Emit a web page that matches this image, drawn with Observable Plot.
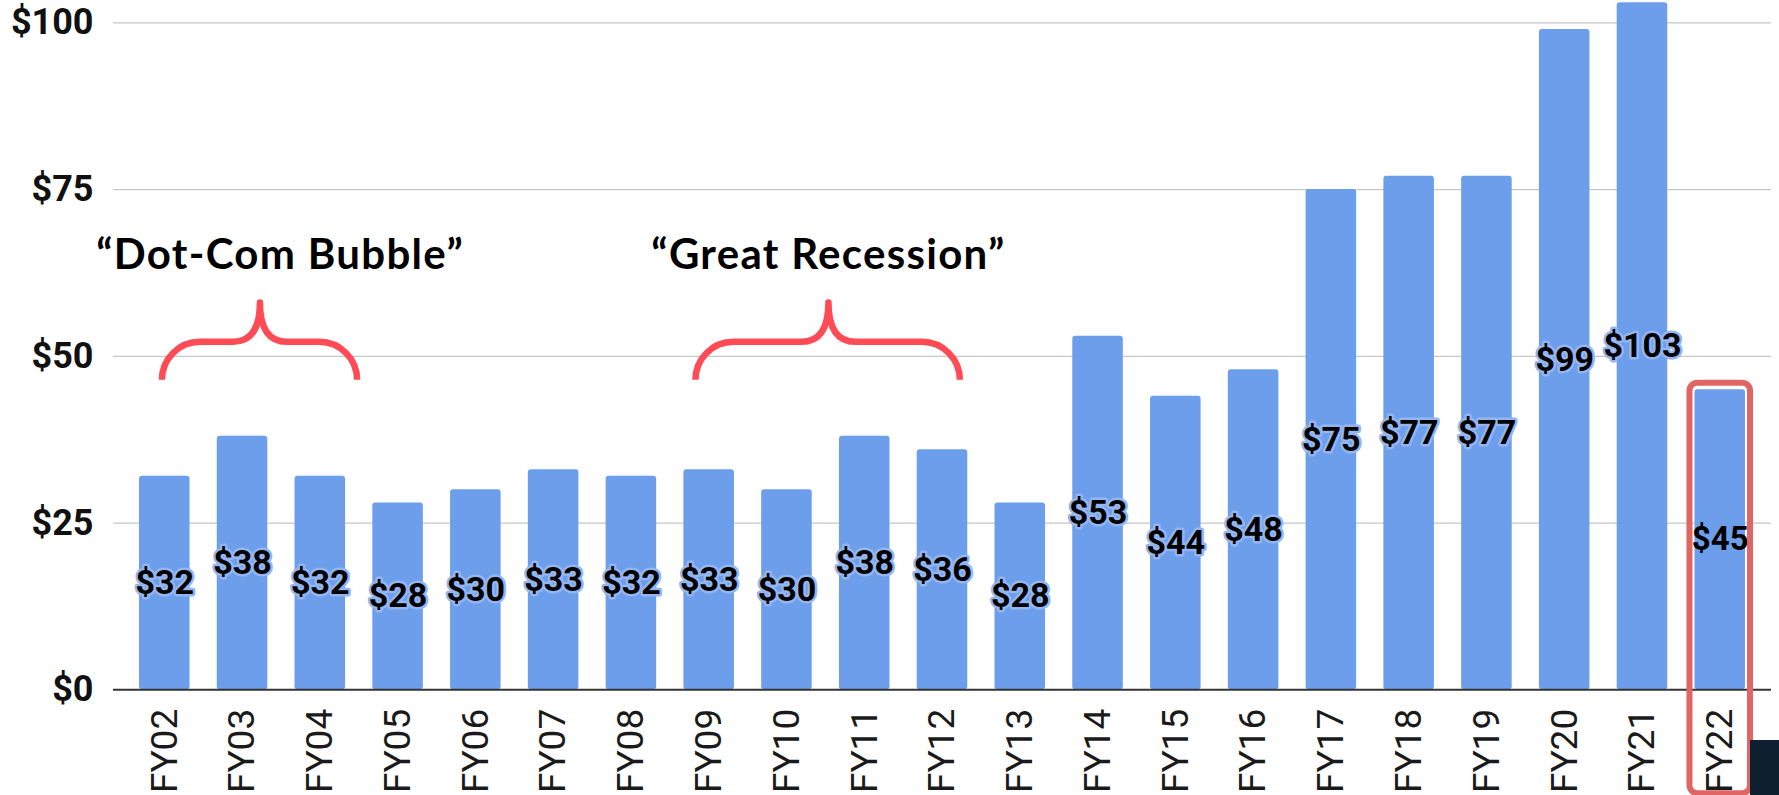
<!DOCTYPE html>
<html><head><meta charset="utf-8">
<script src="https://cdn.jsdelivr.net/npm/d3@7"></script>
<script src="https://cdn.jsdelivr.net/npm/@observablehq/plot@0.6"></script>
<style>
html,body{margin:0;padding:0;background:#fff;overflow:hidden;}
#chart{position:relative;width:1779px;height:795px;}
#corner{position:absolute;left:1750px;top:740px;width:29px;height:55px;background:#0e1f2f;}
#chart svg text{font-family:Roboto,"Noto Sans",sans-serif;}
#chart svg [aria-label^="y-axis"] text{font-size:36px;font-weight:700;fill:#111;}
#chart svg [aria-label^="x-axis"] text{font-size:37px;font-weight:400;fill:#1a1a1a;}
</style></head><body><div id="chart"><div id="corner"></div></div>
<script>
const years = ["FY02","FY03","FY04","FY05","FY06","FY07","FY08","FY09","FY10","FY11","FY12","FY13","FY14","FY15","FY16","FY17","FY18","FY19","FY20","FY21","FY22"];
const values = [32,38,32,28,30,33,32,33,30,38,36,28,53,44,48,75,77,77,99,103,45];
const yTicks = [0,25,50,75,100];
const highlightYear = "FY22";
const annotationLabels = ["\u201CDot-Com Bubble\u201D","\u201CGreat Recession\u201D"];
const annotationSpans = [["FY02","FY04"],["FY09","FY12"]];

// layout (not data): brace geometry in band-step units and y-values
const braceLayout = [
  {left:-0.03, right:0.48, tip:1.23, text:1.49},
  {left:-0.17, right:0.23, tip:8.54, text:8.54}
];
const braceY = {bottom:46.4, bar:52.1, tip:58.0, label:63.0};

const data = years.map((year,i)=>({year, value:values[i]}));
const normal = data.filter(d=>d.year!==highlightYear);
const highlight = data.filter(d=>d.year===highlightYear);

function annotations(index, scales, values_, dimensions) {
  const x = scales.x, y = scales.y;
  const step = x(years[1]) - x(years[0]);
  const bw = x.bandwidth ? x.bandwidth() : step*0.65;
  const center = i => x(years[0]) + bw/2 + i*step;
  const g = d3.create("svg:g");
  annotationLabels.forEach((label,k)=>{
    const L = braceLayout[k];
    const i0 = years.indexOf(annotationSpans[k][0]);
    const i1 = years.indexOf(annotationSpans[k][1]);
    const xl = center(i0 + L.left), xr = center(i1 + L.right);
    const xt = center(L.tip);
    const yb = y(braceY.bottom), yh = y(braceY.bar), yt = y(braceY.tip);
    const r = yb - yh, r2 = 27;
    const p = `M${xl},${yb} A${r},${r} 0 0 1 ${xl+r},${yh} L${xt-r2},${yh} Q${xt},${yh} ${xt},${yt} Q${xt},${yh} ${xt+r2},${yh} L${xr-r},${yh} A${r},${r} 0 0 1 ${xr},${yb}`;
    g.append("path").attr("d",p).attr("fill","none").attr("stroke","#ff4b55")
      .attr("stroke-width",6.5).attr("stroke-linejoin","round");
    g.append("text").attr("x",center(L.text)).attr("y",y(braceY.label))
      .attr("text-anchor","middle").style("font-family","Lato, Carlito, sans-serif")
      .style("font-weight","700").style("font-size","42px").style("letter-spacing","1.3px")
      .attr("fill","#000").text(label);
  });
  return g.node();
}

const chart = Plot.plot({
  width:1779, height:795,
  marginLeft:113, marginRight:8, marginTop:22.3, marginBottom:105.7,
  style:{background:"white", overflow:"visible"},
  x:{domain:years, range:[113,1771], round:false, paddingInner:0.35, paddingOuter:0.334, tickSize:0, tickPadding:19, tickRotate:-90, label:null},
  y:{domain:[0,100], ticks:yTicks, tickSize:0, tickPadding:20, tickFormat:d=>"$"+d, label:null},
  marks:[
    Plot.ruleY(yTicks.filter(t=>t>0), {stroke:"#c6c6c6", strokeWidth:1.3}),
    Plot.barY(data, {x:"year", y:"value", fill:"#6d9eeb", rx:3}),
    Plot.ruleY([0], {stroke:"#333", strokeWidth:2}),
    Plot.text(normal, {x:"year", y:d=>d.value/2, text:d=>"$"+d.value, fontSize:34, fontWeight:"bold", fill:"#000", stroke:"#93b5f0", strokeWidth:5}),
    Plot.text(highlight, {x:"year", y:d=>d.value/2, text:d=>"$"+d.value, fontSize:33, fontWeight:"bold", fill:"#000"}),
    Plot.barY(highlight, {x:"year", y:"value", fill:"none", stroke:"#e06666", strokeWidth:6, rx:8, insetLeft:-5, insetRight:-5, insetTop:-6.5, insetBottom:-104}),
    annotations
  ]
});
document.getElementById("chart").prepend(chart);
</script>
</body></html>
